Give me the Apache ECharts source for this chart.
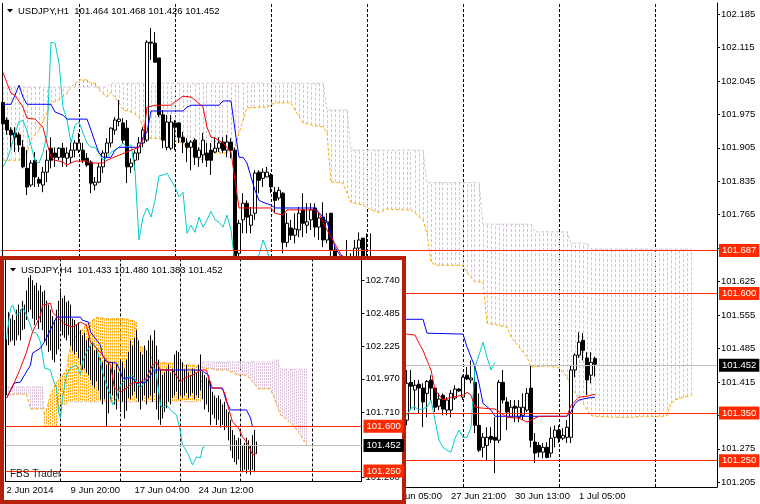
<!DOCTYPE html>
<html><head><meta charset="utf-8">
<script src="https://cdn.jsdelivr.net/npm/echarts@6/dist/echarts.min.js"></script>
<style>html,body{margin:0;padding:0;background:#fff}#c{width:760px;height:504px}</style>
</head><body><div id="c"></div>
<script>
const FONT = 'Liberation Sans';

// ===== H1 (main) chart data =====
const h1Title = 'USDJPY,H1  101.464 101.468 101.426 101.452';
// [open, close, low, high]
const h1Candles = [
[102.000,101.955,101.942,102.040],[101.963,101.942,101.932,101.969],[101.942,101.932,101.906,101.948],[101.936,101.927,101.896,101.948],[101.932,101.911,101.896,101.938],
[101.906,101.865,101.862,101.921],[101.862,101.823,101.806,101.900],[101.827,101.873,101.823,101.879],[101.879,101.844,101.823,101.896],[101.839,101.831,101.823,101.844],
[101.827,101.854,101.812,101.865],[101.854,101.879,101.833,101.900],[101.904,101.879,101.862,101.927],[101.894,101.885,101.865,101.906],[101.885,101.904,101.879,101.906],
[101.904,101.885,101.865,101.915],[101.883,101.894,101.865,101.906],[101.885,101.900,101.873,101.915],[101.900,101.915,101.885,101.921],[101.900,101.915,101.894,101.936],
[101.900,101.879,101.873,101.915],[101.883,101.869,101.865,101.894],[101.875,101.831,101.810,101.879],[101.827,101.833,101.816,101.844],[101.833,101.865,101.831,101.873],
[101.865,101.894,101.852,101.900],[101.894,101.915,101.885,101.925],[101.915,101.946,101.906,101.948],[101.942,101.963,101.932,101.969],[101.960,101.965,101.950,102.005],
[101.957,101.921,101.915,101.967],[101.946,101.865,101.831,101.963],[101.865,101.873,101.852,101.883],[101.879,101.894,101.858,101.900],[101.894,101.915,101.879,101.927],
[101.915,101.942,101.906,101.948],[101.921,102.126,101.917,102.130],[102.126,102.124,102.089,102.156],[102.124,102.084,102.084,102.147],[102.093,101.974,101.969,102.093],
[101.974,101.921,101.904,101.984],[101.906,101.959,101.900,101.974],[101.904,101.959,101.900,101.974],[101.957,101.948,101.900,101.963],[101.957,101.927,101.915,101.959],
[101.927,101.917,101.894,101.938],[101.915,101.906,101.875,101.925],[101.906,101.917,101.858,101.921],[101.921,101.885,101.869,101.925],[101.885,101.900,101.865,101.906],
[101.890,101.921,101.873,101.936],[101.894,101.879,101.865,101.915],[101.900,101.879,101.848,101.915],[101.896,101.904,101.894,101.927],[101.904,101.915,101.896,101.927],
[101.917,101.900,101.894,101.927],[101.900,101.917,101.885,101.932],[101.917,101.900,101.883,101.925],[101.900,101.660,101.640,101.905],[101.684,101.747,101.670,101.754],
[101.754,101.789,101.726,101.810],[101.789,101.760,101.726,101.795],[101.743,101.764,101.726,101.781],[101.768,101.852,101.754,101.858],[101.854,101.837,101.810,101.858],
[101.841,101.854,101.823,101.862],[101.844,101.854,101.844,101.865],[101.848,101.823,101.810,101.852],[101.812,101.795,101.768,101.823],[101.800,101.816,101.795,101.823],
[101.810,101.707,101.684,101.812],[101.707,101.747,101.697,101.768],[101.737,101.722,101.712,101.754],[101.722,101.735,101.705,101.768],[101.733,101.768,101.718,101.781],
[101.775,101.747,101.718,101.810],[101.743,101.750,101.726,101.789],[101.754,101.775,101.733,101.789],[101.779,101.739,101.718,101.789],[101.739,101.758,101.712,101.768],
[101.760,101.712,101.697,101.791],[101.712,101.750,101.705,101.768],[101.768,101.691,101.670,101.768],[101.691,101.620,101.600,101.700],[101.620,101.580,101.550,101.660],
[101.580,101.620,101.560,101.680],[101.620,101.660,101.600,101.712],[101.660,101.640,101.600,101.684],[101.660,101.695,101.630,101.712],[101.695,101.712,101.660,101.728],
[101.716,101.670,101.640,101.716],[101.670,101.600,101.580,101.726],[101.600,101.650,101.550,101.726],[101.650,101.570,101.550,101.670],[101.570,101.520,101.500,101.600],
[101.520,101.480,101.460,101.560],[101.480,101.450,101.420,101.520],[101.450,101.420,101.390,101.490],[101.420,101.400,101.370,101.460],[101.400,101.380,101.360,101.440],
[101.380,101.340,101.330,101.420],[101.335,101.412,101.324,101.440],[101.414,101.406,101.356,101.440],[101.398,101.408,101.356,101.419],[101.410,101.402,101.349,101.419],
[101.402,101.373,101.320,101.412],[101.391,101.416,101.341,101.419],[101.419,101.402,101.377,101.429],[101.402,101.362,101.352,101.404],[101.364,101.379,101.356,101.391],
[101.387,101.358,101.345,101.391],[101.356,101.377,101.345,101.383],[101.356,101.391,101.341,101.398],[101.381,101.400,101.377,101.408],[101.400,101.396,101.394,101.402],
[101.383,101.425,101.377,101.429],[101.429,101.421,101.419,101.446],[101.419,101.423,101.412,101.460],[101.414,101.324,101.308,101.450],[101.324,101.272,101.268,101.391],
[101.278,101.299,101.257,101.308],[101.282,101.299,101.251,101.320],[101.301,101.295,101.287,101.320],[101.299,101.293,101.224,101.341],[101.293,101.414,101.287,101.419],
[101.414,101.377,101.370,101.440],[101.373,101.352,101.314,101.383],[101.341,101.362,101.339,101.377],[101.364,101.360,101.331,101.377],[101.341,101.362,101.331,101.377],
[101.345,101.362,101.335,101.391],[101.356,101.391,101.352,101.402],[101.402,101.293,101.278,101.450],[101.289,101.266,101.245,101.308],[101.282,101.268,101.257,101.289],
[101.268,101.278,101.255,101.287],[101.278,101.257,101.255,101.289],[101.266,101.297,101.257,101.320],[101.299,101.314,101.278,101.324],[101.314,101.297,101.287,101.324],
[101.297,101.303,101.293,101.318],[101.299,101.320,101.287,101.335],[101.299,101.440,101.287,101.450],[101.440,101.471,101.425,101.475],[101.471,101.498,101.465,101.519],
[101.502,101.481,101.460,101.517],[101.465,101.419,101.387,101.477],[101.429,101.456,101.412,101.477],[101.464,101.452,101.426,101.468]
];
// Senkou span A / B, one value per bar (cloud is shifted 26 bars ahead)
const h1SpanA = [
101.879,101.879,101.879,101.879,101.879,101.885,101.894,101.921,101.932,101.942,
101.960,101.978,101.999,102.002,102.005,102.012,102.019,102.032,102.040,102.047,
102.047,102.047,102.040,102.040,102.026,102.018,102.011,102.021,102.010,101.999,
101.984,101.982,101.980,101.975,101.969,101.948,101.927,101.925,101.925,101.924,
101.924,101.923,101.923,101.920,101.918,101.915,101.905,101.894,101.886,101.879,
101.881,101.883,101.885,101.894,101.894,101.894,101.894,101.900,101.906,101.935,
101.963,101.988,101.989,101.989,101.990,101.990,101.990,101.995,101.999,101.999,
101.999,101.999,101.999,101.984,101.970,101.957,101.955,101.953,101.951,101.950,
101.948,101.936,101.833,101.833,101.832,101.831,101.810,101.791,101.789,101.787,
101.785,101.780,101.775,101.772,101.770,101.773,101.777,101.776,101.776,101.775,
101.775,101.775,101.775,101.768,101.761,101.754,101.726,101.666,101.660,101.659,
101.659,101.659,101.659,101.659,101.659,101.659,101.644,101.634,101.624,101.624,
101.624,101.538,101.536,101.535,101.533,101.531,101.530,101.509,101.498,101.488,
101.477,101.467,101.446,101.447,101.447,101.448,101.448,101.447,101.446,101.444,
101.435,101.425,101.404,101.392,101.381,101.370,101.357,101.345,101.343,101.343,
101.342,101.342,101.341,101.341,101.341,101.341,101.341,101.341,101.341,101.343,
101.343,101.343,101.343,101.343,101.343,101.343,101.345,101.370,101.377,101.380,
101.383,101.385,101.387
];
const h1SpanB = [
102.032,102.032,102.032,102.032,102.032,102.032,102.032,102.032,102.032,102.032,
102.032,102.032,102.032,102.032,102.032,102.032,102.032,102.032,102.032,102.032,
102.032,102.032,102.032,102.032,102.032,102.032,102.032,102.040,102.040,102.040,
102.040,102.040,102.040,102.040,102.040,102.040,102.040,102.040,102.040,102.040,
102.040,102.040,102.040,102.040,102.040,102.040,102.040,102.040,102.040,102.040,
102.040,102.040,102.040,102.040,102.040,102.040,102.040,102.040,102.040,102.040,
102.040,102.040,102.040,102.040,102.040,102.040,102.040,102.040,102.040,102.040,
102.040,102.040,102.040,102.040,102.040,102.040,102.040,102.040,102.040,102.040,
102.040,101.984,101.984,101.984,101.984,101.984,101.984,101.900,101.900,101.900,
101.900,101.900,101.900,101.900,101.900,101.900,101.900,101.900,101.900,101.900,
101.900,101.900,101.900,101.900,101.900,101.900,101.832,101.832,101.832,101.832,
101.832,101.832,101.832,101.832,101.832,101.832,101.832,101.832,101.832,101.832,
101.745,101.745,101.745,101.745,101.745,101.745,101.745,101.745,101.745,101.745,
101.745,101.745,101.745,101.729,101.729,101.729,101.729,101.729,101.729,101.729,
101.729,101.729,101.705,101.705,101.705,101.705,101.705,101.693,101.693,101.693,
101.693,101.693,101.693,101.693,101.693,101.693,101.693,101.693,101.693,101.693,
101.693,101.693,101.693,101.693,101.693,101.693,101.693,101.693,101.693,101.693,
101.693,101.693,101.693
];
// [bar index, value] at the turning points of each line
const h1Tenkan = [[0,102.063],[1,102.040],[2,102.019],[3,102.015],[5,101.990],[6,101.967],[8,101.965],[10,101.948],[11,101.915],[12,101.885],[13,101.879],[15,101.875],[16,101.869],[18,101.877],[21,101.877],[22,101.873],[25,101.873],[26,101.879],[32,101.900],[34,101.906],[35,101.921],[36,101.990],[38,101.994],[42,101.994],[43,102.001],[45,102.013],[47,102.011],[48,102.005],[50,101.990],[51,101.948],[52,101.927],[53,101.925],[55,101.915],[57,101.896],[58,101.837],[59,101.779],[67,101.779],[68,101.768],[70,101.764],[71,101.775],[78,101.775],[79,101.768],[80,101.749],[81,101.733],[88,101.630],[95,101.560],[99,101.520],[101,101.515],[103,101.513],[104,101.496],[105,101.481],[106,101.460],[107,101.440],[108,101.398],[110,101.377],[112,101.383],[115,101.387],[116,101.393],[117,101.387],[118,101.362],[120,101.360],[123,101.358],[126,101.341],[129,101.339],[131,101.331],[134,101.343],[141,101.343],[142,101.366],[144,101.383],[146,101.385],[148,101.389]];
const h1Kijun = [[0,101.996],[2,101.996],[3,102.015],[4,102.036],[5,102.011],[6,101.996],[12,101.996],[13,101.980],[15,101.973],[16,101.965],[21,101.965],[22,101.942],[23,101.917],[24,101.894],[25,101.885],[27,101.885],[28,101.900],[29,101.906],[34,101.906],[35,101.927],[36,101.938],[37,101.982],[45,101.982],[46,101.990],[47,101.994],[54,101.994],[55,102.003],[57,102.003],[58,101.942],[59,101.885],[60,101.885],[61,101.873],[62,101.844],[63,101.816],[64,101.795],[65,101.791],[67,101.785],[68,101.779],[78,101.779],[80,101.760],[81,101.749],[82,101.726],[83,101.697],[90,101.600],[96,101.550],[101,101.546],[105,101.546],[106,101.517],[115,101.515],[116,101.488],[117,101.467],[118,101.446],[119,101.412],[120,101.370],[122,101.356],[123,101.343],[141,101.343],[142,101.352],[143,101.370],[144,101.377],[146,101.381],[148,101.383]];
const h1Chikou = [[0,101.865],[1,101.880],[2,101.905],[3,101.935],[4,101.960],[5,101.962],[6,101.940],[7,101.910],[8,101.878],[9,101.873],[10,101.895],[11,101.932],[12,102.126],[13,102.124],[14,102.082],[15,101.990],[16,101.963],[17,101.915],[18,101.952],[19,101.959],[20,101.936],[21,101.915],[22,101.906],[23,101.906],[24,101.894],[25,101.879],[26,101.885],[27,101.896],[28,101.900],[29,101.906],[30,101.915],[31,101.906],[32,101.911],[33,101.858],[34,101.712],[35,101.760],[36,101.779],[37,101.760],[38,101.795],[39,101.846],[40,101.848],[41,101.852],[42,101.837],[43,101.823],[44,101.802],[45,101.812],[46,101.726],[47,101.743],[48,101.728],[49,101.760],[50,101.739],[51,101.754],[52,101.772],[53,101.754],[54,101.749],[55,101.739],[56,101.764],[57,101.733],[58,101.660],[59,101.640],[60,101.620],[61,101.630],[62,101.650],[63,101.670],[64,101.680],[65,101.712],[66,101.691],[67,101.660],[68,101.620],[70,101.600],[72,101.560],[75,101.520],[78,101.480],[80,101.450],[83,101.420],[86,101.400],[89,101.410],[92,101.390],[95,101.370],[98,101.360],[100,101.350],[101,101.345],[102,101.360],[103,101.362],[104,101.356],[106,101.362],[107,101.377],[108,101.335],[109,101.293],[110,101.278],[111,101.272],[112,101.268],[113,101.297],[114,101.314],[115,101.299],[116,101.299],[117,101.320],[118,101.446],[119,101.471],[120,101.498],[121,101.467],[122,101.440],[123,101.456]];
const h1DaySeparators = [19,43,67,91,115,139,163];
const h1TimeTickIdx = [96,112,128,144];
const h1TimeTickLabels = ['27 Jun 05:00','27 Jun 21:00','30 Jun 13:00','1 Jul 05:00'];
const h1PriceTicks = [101.205,101.275,101.345,101.415,101.485,101.555,101.625,101.695,101.765,101.835,101.905,101.975,102.045,102.115,102.185];
const h1Levels = [101.687,101.600,101.350,101.250];
const h1LastPrice = 101.452;

// ===== H4 (inset) chart data =====
const h4Title = 'USDJPY,H4  101.433 101.480 101.383 101.452';
const h4Candles = [
[101.90,102.20,101.844,102.28],[102.25,102.45,102.233,102.49],[102.42,102.30,102.26,102.44],[102.30,102.42,102.27,102.47],[102.42,102.28,102.23,102.43],
[102.28,102.45,102.27,102.51],[102.45,102.35,102.31,102.55],[102.35,102.48,102.27,102.51],[102.48,102.40,102.35,102.58],[102.40,102.52,102.36,102.55],
[102.52,102.62,102.43,102.66],[102.62,102.55,102.49,102.76],[102.55,102.70,102.51,102.78],[102.70,102.50,102.44,102.74],[102.50,102.65,102.39,102.70],
[102.65,102.48,102.43,102.72],[102.48,102.60,102.36,102.66],[102.60,102.45,102.41,102.70],[102.45,102.58,102.35,102.65],[102.58,102.30,102.26,102.66],
[102.30,102.50,102.23,102.58],[102.50,102.25,102.18,102.55],[102.25,102.45,102.19,102.51],[102.45,102.18,102.12,102.46],[102.18,102.38,102.10,102.43],
[102.38,102.22,102.16,102.51],[102.22,102.52,102.20,102.58],[102.52,102.40,102.35,102.65],[102.40,102.55,102.31,102.60],[102.55,102.33,102.29,102.62],
[102.33,102.50,102.27,102.57],[102.50,102.36,102.31,102.58],[102.36,102.48,102.23,102.55],[102.40,102.25,102.19,102.44],[102.25,102.38,102.16,102.43],
[102.38,102.22,102.18,102.39],[102.22,102.36,102.13,102.41],[102.32,102.12,102.08,102.35],[102.12,102.26,102.04,102.31],[102.26,102.10,102.05,102.33],
[102.10,102.22,102.02,102.27],[102.22,102.05,102.00,102.29],[102.05,102.18,101.96,102.23],[102.18,101.98,101.92,102.26],[101.98,102.12,101.90,102.19],
[102.12,102.00,101.95,102.21],[102.00,102.10,101.88,102.16],[102.10,101.86,101.81,102.13],[101.86,102.02,101.77,102.10],[102.02,101.88,101.81,102.12],
[101.88,101.70,101.60,102.08],[101.70,102.02,101.70,102.10],[102.02,101.86,101.81,102.05],[101.86,102.04,101.84,102.10],[102.04,101.82,101.77,102.04],
[101.82,101.98,101.73,102.08],[101.98,101.86,101.81,102.02],[101.86,102.05,101.71,102.12],[102.05,101.84,101.79,102.10],[101.84,101.72,101.66,102.05],
[101.72,102.04,101.72,102.12],[102.04,101.90,101.82,102.18],[101.90,102.20,101.81,102.27],[102.20,101.90,101.84,102.23],[101.90,102.22,101.87,102.29],
[102.22,101.95,101.82,102.35],[101.95,102.15,101.79,102.27],[102.15,101.80,101.73,102.18],[101.80,102.05,101.80,102.16],[102.05,101.90,101.84,102.23],
[101.90,102.10,101.77,102.19],[102.10,101.92,101.82,102.27],[101.92,102.20,101.84,102.31],[102.20,101.88,101.79,102.27],[101.88,102.15,101.86,102.35],
[102.15,101.80,101.73,102.23],[101.80,101.75,101.65,102.12],[101.75,101.95,101.61,102.04],[101.95,101.72,101.66,102.00],[101.72,101.90,101.71,102.02],
[101.90,101.82,101.74,102.05],[101.82,102.00,101.79,102.08],[102.00,101.84,101.77,102.02],[101.84,101.98,101.82,102.05],[101.98,102.08,101.84,102.16],
[102.08,101.92,101.87,102.19],[101.92,102.10,101.81,102.18],[102.10,101.90,101.84,102.12],[101.90,102.02,101.82,102.10],[102.02,101.88,101.84,102.04],
[101.88,102.00,101.86,102.08],[102.00,101.86,101.82,102.02],[101.86,101.96,101.84,102.00],[101.96,101.90,101.86,102.05],[101.90,102.00,101.81,102.04],
[102.00,101.88,101.84,102.02],[101.88,102.02,101.82,102.08],[102.02,101.95,101.88,102.16],[101.95,101.86,101.81,102.02],[101.86,101.80,101.73,102.00],
[101.80,101.90,101.77,101.98],[101.90,101.75,101.71,101.96],[101.75,101.70,101.61,101.95],[101.85,101.72,101.69,101.87],[101.72,101.80,101.66,101.84],
[101.80,101.66,101.61,101.82],[101.66,101.78,101.65,101.84],[101.78,101.62,101.59,101.81],[101.62,101.72,101.61,101.77],[101.72,101.60,101.57,101.79],
[101.60,101.68,101.59,101.73],[101.68,101.52,101.49,101.71],[101.52,101.46,101.41,101.65],[101.46,101.40,101.35,101.57],[101.40,101.48,101.32,101.53],
[101.48,101.34,101.30,101.49],[101.34,101.44,101.34,101.51],[101.44,101.30,101.27,101.49],[101.30,101.40,101.24,101.45],[101.40,101.29,101.26,101.47],
[101.29,101.45,101.23,101.51],[101.45,101.30,101.26,101.49],[101.30,101.40,101.22,101.45],[101.40,101.33,101.26,101.53],[101.33,101.43,101.24,101.57],
[101.433,101.452,101.383,101.480]
];
const h4SpanA = [
101.844,101.844,101.844,101.844,101.850,101.850,101.850,101.850,101.850,101.850,
101.850,101.850,101.735,101.735,101.735,101.735,101.735,101.735,101.735,101.700,
101.727,101.790,101.844,101.880,101.915,101.945,101.960,101.976,101.997,102.018,
102.039,102.140,102.233,102.260,102.290,102.311,102.323,102.335,102.356,102.377,
102.397,102.405,102.413,102.426,102.439,102.452,102.449,102.446,102.444,102.440,
102.440,102.440,102.440,102.440,102.440,102.440,102.440,102.440,102.440,102.440,
102.436,102.433,102.430,102.428,102.420,102.413,102.233,102.223,102.213,102.204,
102.194,102.170,102.147,102.124,102.101,102.097,102.097,102.097,102.097,102.097,
102.093,102.093,102.093,102.093,102.093,102.093,102.093,102.077,102.077,102.077,
102.077,102.077,102.077,102.077,102.077,102.070,102.070,102.066,102.062,102.050,
102.050,102.050,102.050,102.050,102.039,102.039,102.039,102.039,102.039,102.039,
102.039,102.039,102.023,102.023,102.023,102.000,102.000,102.000,102.000,102.000,
102.000,101.985,101.969,101.950,101.930,101.910,101.891,101.891,101.891,101.891,
101.891,101.891,101.891,101.850,101.813,101.770,101.730,101.688,101.678,101.668,
101.657,101.641,101.626,101.610,101.590,101.571,101.551,101.532,101.505,101.477,
101.454
];
const h4SpanB = [
101.906,101.906,101.906,101.906,101.906,101.906,101.906,101.906,101.906,101.906,
101.906,101.906,101.906,101.906,101.906,101.906,101.906,101.906,101.906,101.597,
101.597,101.597,101.597,101.597,101.597,101.597,101.700,101.770,101.770,101.770,
101.770,101.790,101.790,101.790,101.790,101.790,101.790,101.790,101.790,101.790,
101.790,101.790,101.790,101.790,101.790,101.790,101.790,101.790,101.790,101.790,
101.790,101.790,101.790,101.790,101.790,101.790,101.790,101.790,101.790,101.790,
101.790,101.790,101.790,101.790,101.790,101.790,101.790,101.790,101.790,101.790,
101.790,101.790,101.790,101.790,101.790,101.790,101.790,101.790,101.790,101.790,
101.790,101.790,101.790,101.790,101.790,101.790,101.790,101.790,101.790,101.790,
101.790,101.790,101.790,101.790,101.790,101.790,101.790,101.790,102.101,102.101,
102.101,102.101,102.101,102.101,102.101,102.101,102.101,102.101,102.101,102.101,
102.101,102.101,102.101,102.101,102.101,102.101,102.101,102.101,102.101,102.101,
102.101,102.101,102.101,102.101,102.101,102.101,102.101,102.101,102.101,102.101,
102.101,102.101,102.101,102.101,102.101,102.120,102.120,102.045,102.045,102.045,
102.045,102.045,102.045,102.045,102.045,102.045,102.045,102.045,102.045,102.045,
102.045
];
const h4Tenkan = [[0,101.82],[4,101.945],[7,102.054],[10,102.179],[13,102.335],[17,102.467],[18,102.545],[22,102.561],[23,102.491],[27,102.428],[30,102.389],[33,102.374],[37,102.413],[40,102.389],[42,102.257],[45,102.210],[48,102.155],[52,102.077],[54,101.898],[57,101.867],[60,101.898],[63,101.937],[67,101.945],[70,101.976],[73,102.077],[75,102.101],[77,102.039],[83,102.039],[87,101.945],[89,101.976],[93,102.000],[97,102.039],[100,102.039],[101,101.976],[103,101.898],[107,101.898],[109,101.867],[111,101.742],[113,101.633],[116,101.587],[118,101.516],[121,101.454],[123,101.376],[125,101.392]];
const h4Kijun = [[0,101.82],[4,101.937],[7,101.945],[9,102.000],[12,102.077],[13,102.171],[17,102.210],[20,102.288],[23,102.389],[25,102.452],[37,102.452],[38,102.428],[41,102.413],[42,102.335],[47,102.233],[48,102.155],[50,102.101],[55,102.093],[57,102.023],[58,101.976],[63,101.976],[65,101.937],[70,101.945],[73,102.023],[74,102.039],[97,102.039],[101,102.000],[102,101.898],[108,101.898],[109,101.883],[110,101.789],[112,101.727],[120,101.727],[122,101.664],[123,101.597],[125,101.597]];
const h4Chikou = [[0,102.288],[2,102.522],[3,102.545],[5,102.467],[7,102.491],[8,102.530],[10,102.467],[12,102.389],[13,102.335],[15,102.327],[17,102.257],[18,102.155],[19,102.054],[20,102.062],[22,102.039],[23,101.976],[25,101.898],[26,101.711],[27,101.664],[28,101.820],[30,102.000],[32,102.054],[35,102.077],[37,102.000],[38,102.101],[40,102.179],[43,102.257],[45,102.210],[47,102.101],[48,102.023],[50,101.922],[52,101.844],[53,101.766],[55,101.820],[57,101.922],[60,101.976],[63,102.000],[67,101.898],[70,101.976],[73,102.077],[75,102.000],[77,101.766],[78,101.742],[80,101.766],[83,101.711],[85,101.688],[87,101.555],[88,101.454],[89,101.431],[91,101.376],[93,101.298],[95,101.360],[97,101.353],[98,101.431],[99,101.438]];
const h4WeekSeparators = [27,57,87,117,153];
const h4TimeTickIdx = [0,32,64,96];
const h4TimeTickLabels = ['2 Jun 2014','9 Jun 20:00','17 Jun 04:00','24 Jun 12:00'];
const h4PriceTicks = [101.200,101.710,101.970,102.225,102.485,102.740];
const h4Levels = [101.600,101.250];
const h4LastPrice = 101.452;
const footerText = 'FBS Trader';

// ===== colours =====
const C_TENKAN = '#ff0000', C_KIJUN = '#0000ff', C_CHIKOU = '#00cccc';
const C_SPANA = '#ffa500', C_SPANB = '#d8bfd8';
const C_LEVEL = '#ff2a00', C_LAST = '#c0c0c0', C_FRAME = '#b51f0c';

const H1_SLOTS = 179, H4_SLOTS = 178;
const h1Cats = Array.from({length: H1_SLOTS}, (_, i) => String(i));
const h4Cats = Array.from({length: H4_SLOTS}, (_, i) => String(i));

function hatch(dash) {
  return function (params, api) {
    const i = api.value(0), a = api.value(1), b = api.value(2);
    const p1 = api.coord([i, a]), p2 = api.coord([i, b]);
    const x = Math.floor(p1[0]) + 0.5;
    return {type: 'line', silent: true,
      shape: {x1: x, y1: p1[1], x2: x, y2: p2[1]},
      style: {stroke: a > b ? C_SPANA : C_SPANB, lineWidth: 1, lineDash: dash}};
  };
}
function levelLines(levels, last, zl) {
  const d = levels.map(v => ({yAxis: v, lineStyle: {color: C_LEVEL, width: 1, type: 'solid'},
    label: {formatter: v.toFixed(3), backgroundColor: C_LEVEL}}));
  d.push({yAxis: last, lineStyle: {color: C_LAST, width: 1, type: 'solid'},
    label: {formatter: last.toFixed(3), backgroundColor: '#000'}});
  return {zlevel: zl, z: 8, symbol: ['none', 'none'], silent: true, animation: false, data: d,
    label: {show: true, position: 'end', distance: 2, color: '#fff', fontSize: 9.5, fontFamily: FONT,
      padding: [2, 3, 1, 3], lineHeight: 10}};
}
function separators(idx, zl) {
  return {zlevel: zl, z: 1, symbol: ['none', 'none'], silent: true, animation: false, label: {show: false},
    lineStyle: {color: '#000', width: 1, type: [3, 2]}, data: idx.map(i => ({xAxis: i}))};
}
function seriesSet(g, zl, candles, spanA, spanB, tenkan, kijun, chikou, seps, levels, last, candleOpt) {
  return [
    {type: 'line', xAxisIndex: g, yAxisIndex: g, zlevel: zl, z: 1, data: [], markLine: separators(seps, zl)},
    {type: 'custom', xAxisIndex: g, yAxisIndex: g, zlevel: zl, z: 2, clip: true,
      renderItem: hatch(g === 0 ? [3, 2] : [2, 1]), encode: {x: 0, y: [1, 2]},
      data: spanA.map((a, i) => [i, a, spanB[i]])},
    {type: 'line', xAxisIndex: g, yAxisIndex: g, zlevel: zl, z: 3, data: spanA, showSymbol: false,
      lineStyle: {color: C_SPANA, width: 1, type: [3, 2]}},
    {type: 'line', xAxisIndex: g, yAxisIndex: g, zlevel: zl, z: 3, data: spanB, showSymbol: false,
      lineStyle: {color: C_SPANB, width: 1, type: [3, 2]}},
    Object.assign({type: 'candlestick', xAxisIndex: g, yAxisIndex: g, zlevel: zl, z: 4, data: candles}, candleOpt),
    {type: 'line', xAxisIndex: g, yAxisIndex: g, zlevel: zl, z: 5, data: chikou, showSymbol: false,
      lineStyle: {color: C_CHIKOU, width: 1}},
    {type: 'line', xAxisIndex: g, yAxisIndex: g, zlevel: zl, z: 5, data: kijun, showSymbol: false,
      lineStyle: {color: C_KIJUN, width: 1}},
    {type: 'line', xAxisIndex: g, yAxisIndex: g, zlevel: zl, z: 5, data: tenkan, showSymbol: false,
      lineStyle: {color: C_TENKAN, width: 1}},
    {type: 'line', xAxisIndex: g, yAxisIndex: g, zlevel: zl, z: 6, data: [], markLine: levelLines(levels, last, zl)}
  ];
}

const axisText = {fontSize: 9.5, fontFamily: FONT, color: '#000'};
const option = {
  animation: false,
  grid: [
    {left: 1, top: 3, width: 716, height: 484},
    {left: 5.5, top: 259, width: 356, height: 222.5, zlevel: 1, z: 5}
  ],
  xAxis: [
    {type: 'category', gridIndex: 0, data: h1Cats, boundaryGap: true,
      axisLine: {lineStyle: {color: '#000'}}, axisTick: {show: false}, splitLine: {show: false},
      axisLabel: Object.assign({interval: i => h1TimeTickIdx.includes(i), align: 'left', margin: 4,
        formatter: (v, i) => { const p = h1TimeTickIdx.indexOf(i); return p >= 0 ? h1TimeTickLabels[p] : ''; }}, axisText)},
    {type: 'category', gridIndex: 1, data: h4Cats, boundaryGap: true, zlevel: 1, z: 5,
      axisLine: {lineStyle: {color: '#000'}}, axisTick: {show: false}, splitLine: {show: false},
      axisLabel: Object.assign({interval: i => h4TimeTickIdx.includes(i), align: 'left', margin: 4,
        formatter: (v, i) => { const p = h4TimeTickIdx.indexOf(i); return p >= 0 ? h4TimeTickLabels[p] : ''; }}, axisText)}
  ],
  yAxis: [
    {type: 'value', gridIndex: 0, position: 'right', min: 101.195, max: 102.208, scale: true,
      splitLine: {show: false}, axisLine: {show: true, lineStyle: {color: '#000'}},
      axisTick: {show: true, length: 3, customValues: h1PriceTicks, lineStyle: {color: '#000'}},
      axisLabel: Object.assign({customValues: h1PriceTicks, margin: 4, formatter: v => v.toFixed(3)}, axisText)},
    {type: 'value', gridIndex: 1, position: 'right', min: 101.168, max: 102.906, scale: true, zlevel: 1, z: 5,
      splitLine: {show: false}, axisLine: {show: true, lineStyle: {color: '#000'}},
      axisTick: {show: true, length: 3, customValues: h4PriceTicks, lineStyle: {color: '#000'}},
      axisLabel: Object.assign({customValues: h4PriceTicks, margin: 4, formatter: v => v.toFixed(3)}, axisText)}
  ],
  graphic: [
    {type: 'line', zlevel: 0, z: 10, shape: {x1: 2.5, y1: 3, x2: 2.5, y2: 487}, style: {stroke: '#000', lineWidth: 1}},
    {type: 'polygon', zlevel: 0, z: 10, shape: {points: [[7, 9], [13, 9], [10, 12.5]]}, style: {fill: '#000'}},
    {type: 'text', zlevel: 0, z: 10, x: 18, y: 11, style: {text: h1Title, fontSize: 9.5, fontFamily: FONT, fill: '#000', verticalAlign: 'middle'}},
    {type: 'rect', zlevel: 1, z: 1, shape: {x: 2, y: 258, width: 402, height: 244}, style: {fill: '#fff', stroke: C_FRAME, lineWidth: 4}},
    {type: 'line', zlevel: 1, z: 10, shape: {x1: 5.5, y1: 260, x2: 5.5, y2: 481.5}, style: {stroke: '#000', lineWidth: 1}},
    {type: 'polygon', zlevel: 1, z: 10, shape: {points: [[10, 268], [16, 268], [13, 271.5]]}, style: {fill: '#000'}},
    {type: 'text', zlevel: 1, z: 10, x: 21, y: 270, style: {text: h4Title, fontSize: 9.5, fontFamily: FONT, fill: '#000', verticalAlign: 'middle'}},
    {type: 'text', zlevel: 1, z: 10, x: 10, y: 474, style: {text: footerText, fontSize: 10, fontFamily: FONT, fill: '#222', verticalAlign: 'middle'}}
  ],
  series: [].concat(
    seriesSet(0, 0, h1Candles, h1SpanA, h1SpanB, h1Tenkan, h1Kijun, h1Chikou, h1DaySeparators, h1Levels, h1LastPrice,
      {barWidth: 3, itemStyle: {color: '#fff', color0: '#000', borderColor: '#000', borderColor0: '#000', borderWidth: 1}}),
    seriesSet(1, 1, h4Candles, h4SpanA, h4SpanB, h4Tenkan, h4Kijun, h4Chikou, h4WeekSeparators, h4Levels, h4LastPrice,
      {barWidth: 1, large: true, largeThreshold: 10, itemStyle: {color: '#000', color0: '#000', borderColor: '#000', borderColor0: '#000', borderWidth: 1}})
  )
};
const chart = echarts.init(document.getElementById('c'), null, {renderer: 'canvas', width: 760, height: 504});
chart.setOption(option);
</script>
</body></html>
